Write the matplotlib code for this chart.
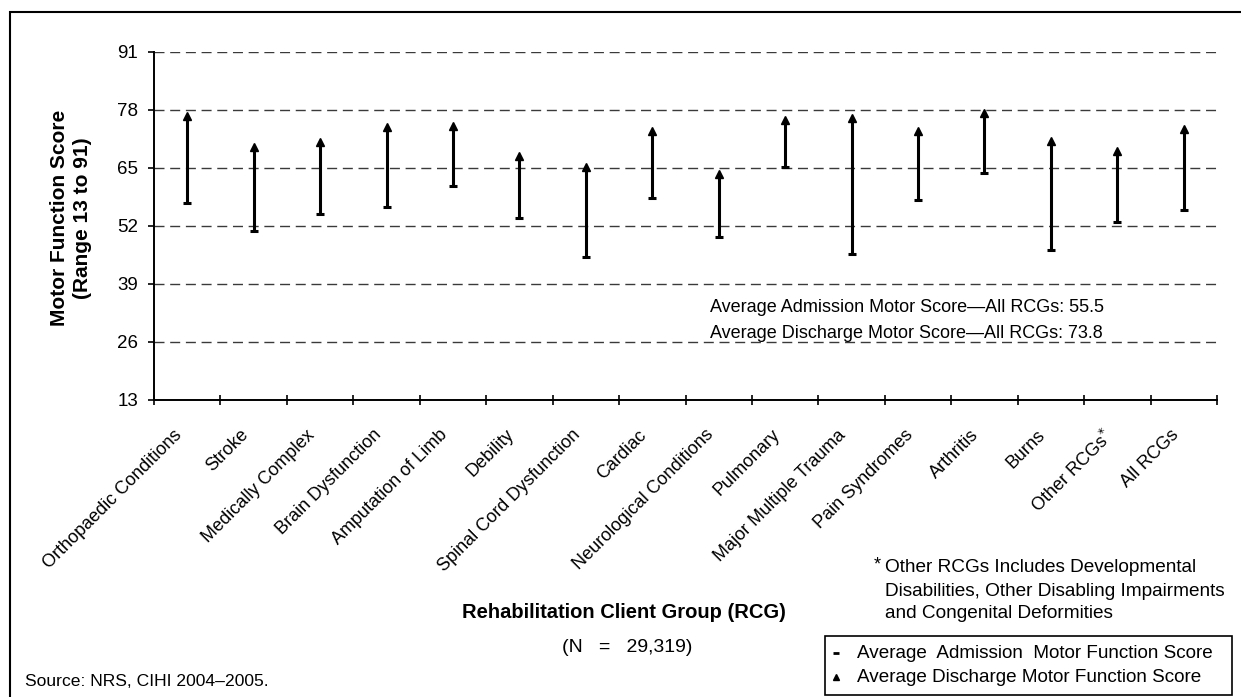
import matplotlib

matplotlib.use("Agg")
import matplotlib.pyplot as plt
import matplotlib.transforms as mtransforms
from matplotlib.lines import Line2D
from matplotlib.patches import Rectangle

plt.rcParams["font.family"] = ["Liberation Sans", "DejaVu Sans"]

# Rehabilitation client groups and their average motor scores
groups = [
    "Orthopaedic Conditions", "Stroke", "Medically Complex", "Brain Dysfunction",
    "Amputation of Limb", "Debility", "Spinal Cord Dysfunction", "Cardiac",
    "Neurological Conditions", "Pulmonary", "Major Multiple Trauma",
    "Pain Syndromes", "Arthritis", "Burns", "Other RCGs$^{*}$", "All RCGs",
]
admission = [57.1, 50.9, 54.8, 56.2, 61.0, 53.9, 45.0, 58.2,
             49.6, 65.2, 45.8, 57.8, 63.8, 46.7, 53.0, 55.5]
discharge = [76.7, 69.6, 70.8, 74.2, 74.4, 67.8, 65.3, 73.4,
             63.6, 75.8, 76.1, 73.4, 77.3, 71.1, 68.7, 73.8]
y_ticks = [13, 26, 39, 52, 65, 78, 91]

W, H = 1241, 697
FS = 13


def px(x, y):
    """pixel position (top-left origin) -> figure fraction"""
    return x / W, 1 - y / H


fig = plt.figure(figsize=(W / 100, H / 100), dpi=100)
fig.patch.set_facecolor("white")

# outer frame, cut by the right and bottom edges of the image
x0, y0 = px(10, 12)
fig.add_artist(Rectangle((x0, -0.2), 1.5, y0 + 0.2, transform=fig.transFigure,
                         fill=False, edgecolor="black", linewidth=1.5))

l, t = px(154, 52)
r, b = px(1217, 400)
ax = fig.add_axes([l, b, r - l, t - b])

n = len(groups)
xs = list(range(n))
ax.vlines(xs, admission, discharge, color="black", linewidth=2.2, zorder=3)
ax.plot(xs, admission, linestyle="none", marker="_", markersize=6,
        markeredgewidth=2.2, color="black", zorder=4)
ax.plot(xs, discharge, linestyle="none", marker="^", markersize=5.5,
        color="black", zorder=4)

ax.set_xlim(-0.5, n - 0.5)
ax.set_ylim(13, 91)
ax.set_yticks(y_ticks)
ax.set_xticks([i - 0.5 for i in range(n + 1)])
ax.set_xticklabels([])
ax.set_xticks(xs, minor=True)
ax.set_xticklabels(groups, minor=True, rotation=45, ha="right",
                   rotation_mode="anchor", fontsize=FS)
ax.tick_params(axis="x", which="major", direction="inout", length=7.5,
               width=1.2, color="black")
ax.tick_params(axis="x", which="minor", length=0, pad=19)
ax.tick_params(axis="y", direction="out", length=4.5, width=1.2,
               pad=7, labelsize=13.5)
shift = mtransforms.ScaledTranslation(-14 / 100, 0, fig.dpi_scale_trans)
for lab in ax.get_xticklabels(minor=True):
    lab.set_transform(lab.get_transform() + shift)

for side in ("top", "right"):
    ax.spines[side].set_visible(False)
for side in ("left", "bottom"):
    ax.spines[side].set_linewidth(1.4)
ax.yaxis.grid(True, color="#3a3a3a", linewidth=1.0, linestyle=(0, (7.2, 4.1)))
ax.set_axisbelow(True)

fig.text(*px(71, 218), "Motor Function Score\n(Range 13 to 91)", fontsize=15,
         fontweight="bold", linespacing=1.25, rotation=90, ha="center",
         va="center")

fig.text(*px(710, 308), "Average Admission Motor Score\u2014All RCGs: 55.5",
         fontsize=FS, va="center")
fig.text(*px(710, 333), "Average Discharge Motor Score\u2014All RCGs: 73.8",
         fontsize=FS, va="center")

fig.text(*px(624, 612), "Rehabilitation Client Group (RCG)", fontsize=14.5,
         fontweight="bold", ha="center", va="center")
fig.text(*px(627, 647), "(N   =   29,319)", fontsize=14, ha="center",
         va="center")

fig.text(*px(874, 565), "*", fontsize=FS, va="center")
fig.text(*px(885, 567), "Other RCGs Includes Developmental", fontsize=13.7,
         va="center")
fig.text(*px(885, 591), "Disabilities, Other Disabling Impairments",
         fontsize=13.7, va="center")
fig.text(*px(885, 614), "and Congenital Deformities", fontsize=13.7,
         va="center")

fig.text(*px(25, 682), "Source: NRS, CIHI 2004\u20132005.", fontsize=12.6,
         va="center")

# legend box
lx0, ly1 = px(825, 636)
lx1, ly0 = px(1232, 695)
fig.add_artist(Rectangle((lx0, ly0), lx1 - lx0, ly1 - ly0,
                         transform=fig.transFigure, fill=False,
                         edgecolor="black", linewidth=1.2))
mx, my = px(836, 653)
fig.add_artist(Line2D([mx], [my], marker="_", markersize=5, markeredgewidth=2,
                      color="black", transform=fig.transFigure))
mx, my = px(836, 677)
fig.add_artist(Line2D([mx], [my], marker="^", markersize=4.5, color="black",
                      transform=fig.transFigure))
fig.text(*px(857, 653), "Average  Admission  Motor Function Score",
         fontsize=13.6, va="center")
fig.text(*px(857, 677), "Average Discharge Motor Function Score",
         fontsize=13.6, va="center")

fig.savefig("out.png", dpi=100, facecolor="white")
